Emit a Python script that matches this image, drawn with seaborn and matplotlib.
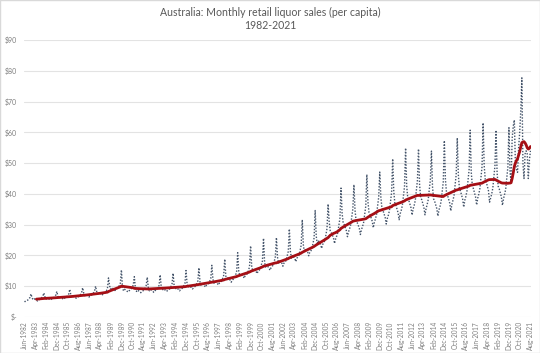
import pandas as pd
import matplotlib
matplotlib.use("Agg")
import matplotlib.pyplot as plt
from matplotlib.patches import Rectangle
import seaborn as sns

#%% DATA - monthly liquor sales per capita ($)
start = "1982-06"

sales_1980s = [
    4.9, 5.2, 5.3, 5.5, 5.9, 6.3, 7.5,                              # 1982 Jun-Dec
    6.2, 5.6, 5.9, 5.7, 5.6, 5.2, 5.6, 5.7, 5.9, 6.3, 6.8, 7.8,    # 1983
    6.5, 5.8, 6.1, 6.0, 5.8, 5.5, 5.8, 6.0, 6.1, 6.6, 7.1, 8.3,    # 1984
    6.7, 6.1, 6.4, 6.2, 6.1, 5.7, 6.1, 6.2, 6.4, 6.9, 7.4, 9.0,    # 1985
    7.2, 6.4, 6.8, 6.6, 6.4, 6.1, 6.4, 6.6, 6.8, 7.3, 7.9, 9.5,    # 1986
    7.7, 6.9, 7.3, 7.1, 6.9, 6.5, 6.9, 7.1, 7.3, 7.8, 8.4, 10.0,   # 1987
    8.3, 7.5, 7.9, 7.7, 7.5, 7.1, 7.5, 7.7, 7.9, 8.5, 9.2, 12.7,   # 1988
    10.1, 9.1, 9.6, 9.3, 9.1, 8.6, 9.1, 9.3, 9.6, 10.2, 11.0, 15.3,  # 1989
]

sales_1990s = [
    9.5, 8.5, 9.0, 8.7, 8.5, 8.1, 8.5, 8.7, 9.0, 9.6, 10.4, 13.1,
    9.2, 8.3, 8.8, 8.5, 8.3, 7.9, 8.3, 8.5, 8.8, 9.4, 10.2, 12.9,
    9.4, 8.5, 8.9, 8.7, 8.5, 8.0, 8.5, 8.7, 8.9, 9.6, 10.3, 13.7,
    9.7, 8.7, 9.2, 8.9, 8.7, 8.3, 8.7, 8.9, 9.2, 9.9, 10.7, 14.2,
    10.0, 9.0, 9.5, 9.2, 9.0, 8.5, 9.0, 9.2, 9.5, 10.2, 10.9, 15.1,
    10.7, 9.6, 10.1, 9.8, 9.6, 9.1, 9.6, 9.8, 10.1, 10.9, 11.7, 16.0,
    11.4, 10.3, 10.8, 10.5, 10.3, 9.7, 10.3, 10.5, 10.8, 11.6, 12.5, 16.8,
    12.3, 11.0, 11.6, 11.3, 11.0, 10.4, 11.0, 11.3, 11.6, 12.5, 13.5, 18.8,
    13.3, 12.0, 12.7, 12.3, 12.0, 11.3, 12.0, 12.3, 12.7, 13.6, 14.6, 20.9,
    14.8, 13.4, 14.1, 13.7, 13.4, 12.6, 13.4, 13.7, 14.1, 15.1, 16.3, 23.1,
]

sales_2000s = [
    16.6, 14.9, 15.7, 15.2, 14.9, 14.1, 14.9, 15.2, 15.7, 16.9, 18.2, 25.6,
    17.8, 16.0, 16.9, 16.4, 16.0, 15.2, 16.0, 16.4, 16.9, 18.1, 19.6, 25.8,
    19.4, 17.5, 18.4, 17.8, 17.5, 16.5, 17.5, 17.8, 18.4, 19.8, 21.3, 28.6,
    21.2, 19.1, 20.1, 19.5, 19.1, 18.0, 19.1, 19.5, 20.1, 21.6, 23.3, 31.6,
    23.4, 21.1, 22.2, 21.5, 21.1, 19.9, 21.1, 21.5, 22.2, 23.9, 25.7, 34.6,
    26.2, 23.6, 24.9, 24.1, 23.6, 22.3, 23.6, 24.1, 24.9, 26.7, 28.8, 36.7,
    31.0, 28.0, 27.4, 26.6, 25.7, 23.9, 25.4, 26.3, 27.4, 29.8, 32.1, 41.9,
    33.8, 30.6, 30.0, 29.0, 28.0, 26.1, 27.7, 28.7, 30.0, 32.5, 35.1, 43.0,
    34.7, 31.4, 30.7, 29.8, 28.8, 26.8, 28.4, 29.4, 30.7, 33.4, 36.0, 46.3,
    37.5, 34.0, 33.3, 32.2, 31.1, 29.0, 30.8, 31.9, 33.3, 36.1, 38.9, 47.1,
]

sales_2010s = [
    39.0, 35.4, 34.6, 33.5, 32.4, 30.2, 32.0, 33.1, 34.6, 37.6, 40.5, 51.4,
    40.9, 37.0, 36.3, 35.1, 33.9, 31.6, 33.6, 34.7, 36.3, 39.3, 42.4, 54.9,
    42.7, 38.7, 37.9, 36.7, 35.5, 33.1, 35.1, 36.3, 37.9, 41.1, 44.4, 54.6,
    42.9, 38.9, 38.1, 36.9, 35.6, 33.2, 35.2, 36.5, 38.1, 41.3, 44.6, 53.9,
    42.3, 38.4, 37.6, 36.4, 35.2, 32.8, 34.8, 36.0, 37.6, 40.7, 43.9, 57.3,
    44.6, 40.4, 39.5, 38.3, 37.0, 34.5, 36.6, 37.9, 39.5, 42.9, 46.3, 58.2,
    46.2, 41.8, 40.9, 39.6, 38.3, 35.7, 37.9, 39.2, 40.9, 44.4, 47.9, 60.7,
    47.0, 42.6, 41.7, 40.4, 39.0, 36.4, 38.6, 39.9, 41.7, 45.2, 48.8, 63.1,
    49.2, 44.7, 43.8, 42.4, 41.0, 37.3, 38.6, 40.0, 41.8, 45.4, 49.1, 60.7,
    46.9, 42.5, 41.6, 40.3, 39.0, 36.3, 38.5, 39.9, 41.6, 45.2, 48.7, 61.5,
]

sales_2020s = [
    47.0, 44.0, 58.0, 62.0, 64.0, 50.0, 48.0, 47.0, 55.0, 60.0, 67.0, 77.7,
    50.0, 45.0, 53.0, 54.0, 53.0, 45.0, 51.0, 54.0,                 # 2021 Jan-Aug
]

#%% Build frame + 12 month moving average
sales = sales_1980s + sales_1990s + sales_2000s + sales_2010s + sales_2020s
months = pd.date_range(start, periods=len(sales), freq="MS")

df = pd.DataFrame({"idx": range(len(sales)), "sales": sales})
df["ma12"] = df["sales"].rolling(12).mean()

#%% Plot
sns.set_style("white")
plt.rcParams["font.family"] = ["Lato", "DejaVu Sans"]

fig = plt.figure(figsize=(5.4, 3.53), dpi=100)
ax = fig.add_axes([24 / 540, 36 / 353, 507 / 540, 277 / 353])

sns.lineplot(data=df, x="idx", y="sales", ax=ax, color="#44546A",
             linewidth=1.0, linestyle=(0, (1, 1.2)))
sns.lineplot(data=df.dropna(), x="idx", y="ma12", ax=ax, color="#A50F15",
             linewidth=2.0)

ax.set_xlim(-0.5, len(sales) - 0.5)
ax.set_ylim(0, 90)

ticks = list(range(0, len(sales), 10))
ax.set_xticks(ticks)
ax.set_xticklabels(months[ticks].strftime("%b-%Y"), rotation=90,
                   fontsize=4.7, color="#7F7F7F")
yt = list(range(0, 91, 10))
ax.set_yticks(yt)
ax.set_yticklabels(["$-" if v == 0 else "${}".format(v) for v in yt],
                   fontsize=5.0, color="#7F7F7F")
ax.tick_params(axis="x", length=0, pad=3)
ax.tick_params(axis="y", length=0, pad=5)

ax.grid(axis="y", color="#E3E3E3", linewidth=0.8)
ax.grid(axis="x", visible=False)
for s in ax.spines.values():
    s.set_visible(False)
ax.set_xlabel("")
ax.set_ylabel("")

fig.text(0.5, 1 - 19 / 353,
         "Australia: Monthly retail liquor sales (per capita)\n1982-2021",
         ha="center", va="center", fontsize=7.6, color="#595959",
         linespacing=1.25)

fig.patches.append(Rectangle((0, 0), 1, 1, transform=fig.transFigure,
                             fill=False, edgecolor="#D9D9D9", linewidth=1))

fig.savefig("out.png", dpi=100)
